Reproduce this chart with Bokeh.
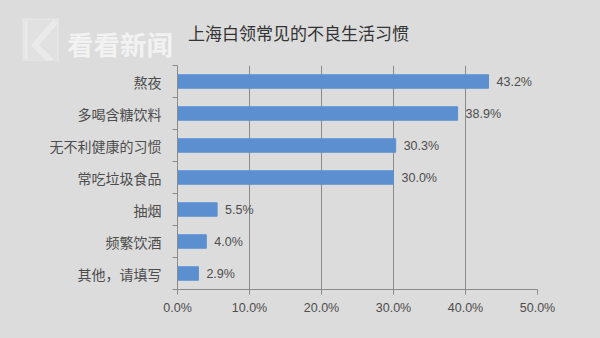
from bokeh.plotting import figure
from bokeh.models import Range1d, FixedTicker, ColumnDataSource, LabelSet, Div
from bokeh.layouts import column
from bokeh.core.properties import value
from bokeh.embed import file_html
from bokeh.resources import INLINE

title_text = "上海白领常见的不良生活习惯"
watermark_text = "看看新闻"
categories = ["熬夜", "多喝含糖饮料", "无不利健康的习惯", "常吃垃圾食品", "抽烟", "频繁饮酒", "其他，请填写"]
values = [43.2, 38.9, 30.3, 30.0, 5.5, 4.0, 2.9]
value_labels = ["43.2%", "38.9%", "30.3%", "30.0%", "5.5%", "4.0%", "2.9%"]
x_ticks = [0, 10, 20, 30, 40, 50]
x_tick_labels = ["0.0%", "10.0%", "20.0%", "30.0%", "40.0%", "50.0%"]

BG = "#dcdcdc"
BAR = "#5b8fd0"
TXT = "#4d4d4d"
GRID = "#8a8a8a"

n = len(categories)
ypos = [i + 0.5 for i in range(n)]

# header: watermark logo + text and chart title
header_html = f"""
<div style="position:relative;width:600px;height:60px;background:{BG};margin:0;padding:0;">
  <svg width="42" height="48" style="position:absolute;left:20px;top:16px;">
    <rect x="3" y="3" width="35" height="42" fill="white" fill-opacity="0.16"
          stroke="white" stroke-opacity="0.25" stroke-width="1.5"/>
    <polyline points="36,5 15,29 31,45" fill="none" stroke="white" stroke-opacity="0.3" stroke-width="6"/>
    <line x1="6" y1="5" x2="6" y2="43" stroke="white" stroke-opacity="0.3" stroke-width="3"/>
  </svg>
  <span style="position:absolute;left:67px;top:28px;line-height:31px;height:31px;white-space:nowrap;
               font-family:'Noto Sans CJK SC';font-weight:bold;font-size:26.5px;
               color:white;opacity:0.65;">{watermark_text}</span>
  <span style="position:absolute;left:188px;top:21px;line-height:24px;white-space:nowrap;
               font-family:'Noto Sans CJK SC';font-size:17px;color:#333333;">{title_text}</span>
</div>
"""
header = Div(text=header_html, width=600, height=60, margin=0,
             styles={"background-color": BG})

p = figure(width=600, height=278, output_backend="svg", toolbar_location=None,
           x_range=Range1d(0, 50), y_range=Range1d(n, 0),
           min_border_left=177, min_border_right=63, min_border_top=5, min_border_bottom=49,
           margin=0)
p.background_fill_color = BG
p.border_fill_color = BG
p.outline_line_color = None

src = ColumnDataSource(dict(y=ypos, v=values, lab=value_labels))
p.hbar(y="y", left=0, right="v", height=0.42, color=BAR, source=src)

# x axis
p.xaxis.ticker = FixedTicker(ticks=x_ticks)
p.xaxis.major_label_overrides = {t: l for t, l in zip(x_ticks, x_tick_labels)}
p.xaxis.axis_line_color = GRID
p.xaxis.major_tick_line_color = GRID
p.xaxis.major_tick_out = 5
p.xaxis.major_tick_in = 0
p.xaxis.minor_tick_line_color = None
p.xaxis.major_label_text_font = "Liberation Sans"
p.xaxis.major_label_text_font_size = "12.5px"
p.xaxis.major_label_text_color = TXT
p.xaxis.major_label_standoff = 6

# y axis: category labels at centres, tick marks between categories
p.yaxis.ticker = FixedTicker(ticks=ypos, minor_ticks=list(range(n + 1)))
p.yaxis.major_label_overrides = {y: c for y, c in zip(ypos, categories)}
p.yaxis.major_label_text_font = "Noto Sans CJK SC"
p.yaxis.major_label_text_font_size = "14px"
p.yaxis.major_label_text_color = TXT
p.yaxis.major_label_standoff = 11
p.yaxis.axis_line_color = GRID
p.yaxis.major_tick_line_color = None
p.yaxis.major_tick_out = 0
p.yaxis.major_tick_in = 0
p.yaxis.minor_tick_line_color = GRID
p.yaxis.minor_tick_out = 5
p.yaxis.minor_tick_in = 0

p.xgrid.ticker = FixedTicker(ticks=x_ticks[1:])
p.xgrid.grid_line_color = GRID
p.ygrid.grid_line_color = None

p.add_layout(LabelSet(x="v", y="y", text="lab", source=src, x_offset=8,
                      text_align="left", text_baseline="middle",
                      text_font=value("Liberation Sans"), text_font_size=value("12.5px"),
                      text_color=TXT))

layout = column(header, p, spacing=0, margin=0, styles={"background-color": BG})
open("out.html", "w").write(file_html(layout, INLINE))
